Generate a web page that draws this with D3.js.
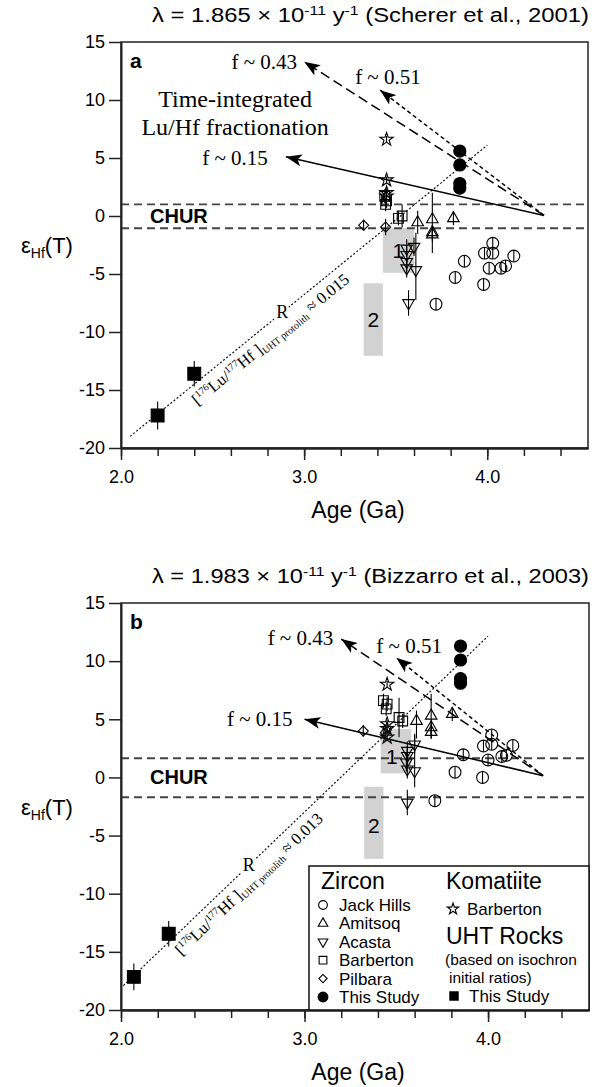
<!DOCTYPE html>
<html>
<head>
<meta charset="utf-8">
<script src="https://cdn.jsdelivr.net/npm/d3@7"></script>
<style>
  body { margin: 0; background: #fff; }
  svg text { font-family: "Liberation Sans", Arial, Helvetica, sans-serif; fill: #000; }
  svg text.serif { font-family: "Liberation Serif", "Times New Roman", serif; }
</style>
</head>
<body>
<div id="chart"></div>
<script>
// axis setup
const ageDomain = [2.0, 4.55];
const epsTicks = [-20, -15, -10, -5, 0, 5, 10, 15];
const ageMajor = [2.0, 3.0, 4.0];
const ageMinor = [2.0, 2.2, 2.4, 2.6, 2.8, 3.0, 3.2, 3.4, 3.6, 3.8, 4.0, 4.2, 4.4];

// panel a : lambda = 1.865e-11 (Scherer et al., 2001)
// points are [age Ga, eHf(T), err up, err down]
const jackHillsA = [[4.03,-2.35],[3.985,-3.2],[4.03,-3.2],[3.875,-3.9],[4.145,-3.45],[4.01,-4.5],
  [4.075,-4.5],[4.1,-4.3],[3.825,-5.3],[3.98,-5.9],[3.72,-7.6]];
const amitsoqA = [[3.62,-0.55,1.0],[3.70,-0.3,2.3,2.9],[3.815,-0.2,0.6],[3.70,-1.4,0.6],[3.70,-1.6,0.6]];
const acastaA = [[3.60,-2.65,0.8],[3.56,-2.8,0.8],[3.56,-3.35,0.8],[3.56,-3.95,0.8],[3.56,-4.5,0.8],
  [3.61,-4.65,3.2,2.6],[3.57,-7.5,1.1]];
const barbertonA = [[3.44,1.7,0.6],[3.45,1.3,0.6],[3.445,1.0,0.6],[3.515,-0.2,0.6],[3.535,0.0,1.0]];
const pilbaraA = [[3.325,-0.8,0.5],[3.445,-0.95,0.7]];
const komatiiteA = [[3.45,6.6,0.3],[3.45,3.1,0.3],[3.45,2.0,0.3],[3.45,1.7,0.3]];
const zirconStudyA = [[3.85,5.6,0],[3.85,4.4,0],[3.85,2.8,0],[3.85,2.4,0]];
const uhtA = [[2.2,-17.2,1.2],[2.4,-13.6,1.1]];
const boxesA = [[3.43,3.60,-1.05,-4.9],[3.325,3.43,-5.8,-12.05]];
const churA = [1.0, -1.05];
const fOriginA = [4.31, 0.05];
const fTipsA = [[2.90,5.1],[3.0,13.3],[3.415,10.85]];
const rLineA = [[2.05,-19.0],[4.0,6.1]];

// panel b : lambda = 1.983e-11 (Bizzarro et al., 2003)
const jackHillsB = [[4.02,3.65],[3.975,2.7],[4.02,2.85],[4.135,2.75],[3.865,1.95],[4.075,1.8],
  [4.1,1.9],[4.0,1.5],[3.82,0.45],[3.97,0.0],[3.71,-2.0]];
const amitsoqB = [[3.61,4.85,0.9,1.5],[3.69,5.3,1.9],[3.69,4.3,0.6],[3.69,3.9,0.6],[3.805,5.45,0.6]];
const acastaB = [[3.60,2.85,0.8],[3.56,2.3,0.8],[3.56,1.85,0.8],[3.555,1.3,0.8],[3.56,0.7,0.8],
  [3.60,0.55,3.2,1.4],[3.56,-2.15,1.1]];
const barbertonB = [[3.43,6.6,0.6],[3.45,6.3,0.6],[3.445,5.9,0.6],[3.515,5.15,1.7],[3.535,4.85,0.6]];
const pilbaraB = [[3.32,4.0,0.5],[3.44,3.85,0.7]];
const komatiiteB = [[3.45,8.0,0.3],[3.45,4.6,0.3],[3.45,4.2,0.3],[3.45,3.45,0.3]];
const zirconStudyB = [[3.85,11.3,0],[3.85,10.1,0],[3.85,8.5,0],[3.85,8.1,0]];
const uhtB = [[2.07,-17.15,1.15],[2.26,-13.45,1.1]];
const boxesB = [[3.415,3.58,4.15,0.35],[3.325,3.43,-0.8,-7.0]];
const churB = [1.65, -1.7];
const fOriginB = [4.30, 0.15];
const fTipsB = [[3.0,5.0],[3.2,11.9],[3.5,10.3]];
const rLineB = [[2.013,-17.9],[4.0,12.15]];

const fLabels = ["f ~ 0.15", "f ~ 0.43", "f ~ 0.51"];
const fDash = [null, "10,5", "4,3"];

const svg = d3.select("#chart").append("svg")
    .attr("width", 600).attr("height", 1087);

svg.append("defs").append("marker")
    .attr("id", "ah")
    .attr("viewBox", "0 -6 17 12")
    .attr("refX", 16).attr("refY", 0)
    .attr("markerWidth", 17).attr("markerHeight", 12)
    .attr("markerUnits", "userSpaceOnUse")
    .attr("orient", "auto")
  .append("path")
    .attr("d", "M0,-6 L16,0 L0,6 L4,0 Z")
    .attr("fill", "#000");

function plotSet(g, x, y, data, sym, size, fill, rot) {
    const gg = g.append("g");
    gg.selectAll("line").data(data).join("line")
        .attr("x1", d => x(d[0])).attr("x2", d => x(d[0]))
        .attr("y1", d => y(d[1] + (d[2] ?? 0.5)))
        .attr("y2", d => y(d[1] - (d[3] ?? d[2] ?? 0.5)))
        .attr("stroke", "#000").attr("stroke-width", 1.1);
    gg.selectAll("path").data(data).join("path")
        .attr("d", d3.symbol(sym, size))
        .attr("transform", d => `translate(${x(d[0])},${y(d[1])}) rotate(${rot || 0})`)
        .attr("fill", fill).attr("stroke", "#000").attr("stroke-width", 1.1);
}

function drawPanel(c) {
    const x = d3.scaleLinear().domain(ageDomain).range([121, c.right]);
    const y = d3.scaleLinear().domain([-20, 15]).range([c.bottom, c.top]);
    const g = svg.append("g");

    // grey boxes 1 and 2
    g.selectAll("rect.box").data(c.boxes).join("rect")
        .attr("class", "box")
        .attr("x", d => x(d[0])).attr("width", d => x(d[1]) - x(d[0]))
        .attr("y", d => y(d[2])).attr("height", d => y(d[3]) - y(d[2]))
        .attr("fill", "#d2d2d2");
    g.selectAll("text.boxlab").data(c.boxes).join("text")
        .attr("class", "boxlab")
        .attr("x", (d, i) => (x(d[0]) + x(d[1])) / 2 + c.boxLabDx[i])
        .attr("y", (d, i) => (y(d[2]) + y(d[3])) / 2 + 7 + c.boxLabDy[i])
        .attr("text-anchor", "middle").attr("font-size", 21)
        .text((d, i) => String(i + 1));

    // CHUR band
    g.selectAll("line.chur").data(c.chur).join("line")
        .attr("class", "chur")
        .attr("x1", x.range()[0]).attr("x2", x.range()[1])
        .attr("y1", d => y(d)).attr("y2", d => y(d))
        .attr("stroke", "#444").attr("stroke-width", 1.9)
        .attr("stroke-dasharray", "8,5");

    // reference line R
    const r0 = c.rLine[0], r1 = c.rLine[1];
    g.append("line")
        .attr("x1", x(r0[0])).attr("y1", y(r0[1]))
        .attr("x2", x(r1[0])).attr("y2", y(r1[1]))
        .attr("stroke", "#111").attr("stroke-width", 1.2)
        .attr("stroke-dasharray", "2,2");
    const rAt = a => r0[1] + (r1[1] - r0[1]) * (a - r0[0]) / (r1[0] - r0[0]);
    const ang = Math.atan2(y(r1[1]) - y(r0[1]), x(r1[0]) - x(r0[0])) * 180 / Math.PI;

    const rl = g.append("text").attr("class", "serif")
        .attr("transform", `translate(${x(c.rText)},${y(rAt(c.rText))}) rotate(${ang})`)
        .attr("y", 19).attr("text-anchor", "middle").attr("font-size", 16.5);
    rl.append("tspan").text("[");
    rl.append("tspan").attr("font-size", 10).attr("dy", -6).text("176");
    rl.append("tspan").attr("dy", 6).text("Lu/");
    rl.append("tspan").attr("font-size", 10).attr("dy", -6).text("177");
    rl.append("tspan").attr("dy", 6).text("Hf ]");
    rl.append("tspan").attr("font-size", 10).attr("dy", 3).text("UHT protolith");
    rl.append("tspan").attr("dy", -3).text(" \u2248 " + c.rValue);

    g.append("text").attr("class", "serif")
        .attr("x", x(c.rLetter)).attr("y", y(rAt(c.rLetter)) + 6)
        .attr("text-anchor", "middle").attr("font-size", 18)
        .attr("stroke", "#fff").attr("stroke-width", 5).attr("paint-order", "stroke")
        .text("R");

    // fractionation arrows
    c.fTips.forEach((t, i) => {
        g.append("line")
            .attr("x1", x(c.fOrigin[0])).attr("y1", y(c.fOrigin[1]))
            .attr("x2", x(t[0])).attr("y2", y(t[1]))
            .attr("stroke", "#000").attr("stroke-width", 1.5)
            .attr("stroke-dasharray", fDash[i])
            .attr("marker-end", "url(#ah)");
        const o = c.fLabOff[i];
        g.append("text").attr("class", "serif")
            .attr("x", x(t[0]) + o[0]).attr("y", y(t[1]) + o[1])
            .attr("text-anchor", o[2]).attr("font-size", 21)
            .text(fLabels[i]);
    });

    if (c.note) {
        c.note.forEach((line, i) => {
            g.append("text").attr("class", "serif")
                .attr("x", x(c.noteAt[0])).attr("y", y(c.noteAt[1]) + 7 + i * 28)
                .attr("text-anchor", "middle").attr("font-size", 24)
                .text(line);
        });
    }

    // data
    plotSet(g, x, y, c.pilbara, d3.symbolSquare, 50, "none", 45);
    plotSet(g, x, y, c.barberton, d3.symbolSquare, 95, "none", 0);
    plotSet(g, x, y, c.amitsoq, d3.symbolTriangle, 58, "none", 0);
    plotSet(g, x, y, c.acasta, d3.symbolTriangle, 58, "none", 180);
    plotSet(g, x, y, c.jackHills, d3.symbolCircle, 110, "none", 0);
    plotSet(g, x, y, c.komatiite, d3.symbolStar, 55, "none", 0);
    plotSet(g, x, y, c.zirconStudy, d3.symbolCircle, 115, "#000", 0);
    plotSet(g, x, y, c.uht, d3.symbolSquare, 165, "#000", 0);

    // frame and axes
    g.append("rect")
        .attr("x", x.range()[0]).attr("y", c.top)
        .attr("width", x.range()[1] - x.range()[0]).attr("height", c.bottom - c.top)
        .attr("fill", "none").attr("stroke", "#222").attr("stroke-width", 1.5);

    const ya = g.append("g").attr("transform", `translate(${x.range()[0]},0)`)
        .call(d3.axisLeft(y).tickValues(epsTicks).tickSize(12).tickSizeOuter(0)
            .tickPadding(4).tickFormat(d => String(d)));
    const xMinor = g.append("g").attr("transform", `translate(0,${c.bottom})`)
        .call(d3.axisBottom(x).tickValues(ageMinor).tickSize(8).tickSizeOuter(0).tickFormat(""));
    const xa = g.append("g").attr("transform", `translate(0,${c.bottom})`)
        .call(d3.axisBottom(x).tickValues(ageMajor).tickSize(12).tickSizeOuter(0)
            .tickPadding(10).tickFormat(d3.format(".1f")));
    [ya, xMinor, xa].forEach(a => {
        a.select(".domain").attr("stroke", "#222").attr("stroke-width", 2);
        a.selectAll(".tick line").attr("stroke", "#222").attr("stroke-width", 1.5);
        a.selectAll(".tick text").attr("font-size", 18).attr("fill", "#000")
            .attr("font-family", "Liberation Sans, Arial, sans-serif");
    });

    // labels
    g.append("text").attr("x", 130).attr("y", c.top + 26)
        .attr("font-size", 21).attr("font-weight", "bold").text(c.id);
    g.append("text").attr("x", 150).attr("y", y(0) + 7)
        .attr("font-size", 20).attr("font-weight", "bold").text("CHUR");

    const tt = g.append("text").attr("x", 152).attr("y", c.top - 20)
        .attr("font-size", 19.5)
        .attr("textLength", 437).attr("lengthAdjust", "spacingAndGlyphs");
    tt.append("tspan").text("\u03bb = " + c.lambda + " \u00d7 10");
    tt.append("tspan").attr("font-size", 13).attr("dy", -7).text("-11");
    tt.append("tspan").attr("dy", 7).text(" y");
    tt.append("tspan").attr("font-size", 13).attr("dy", -7).text("-1");
    tt.append("tspan").attr("dy", 7).text(" (" + c.ref + ")");

    const yl = g.append("text").attr("x", 21).attr("y", (c.top + c.bottom) / 2 + 8)
        .attr("font-size", 22);
    yl.append("tspan").text("\u03b5");
    yl.append("tspan").attr("font-size", 14).attr("dy", 5).text("Hf");
    yl.append("tspan").attr("dy", -5).text("(T)");

    g.append("text").attr("x", 358).attr("y", c.bottom + 70)
        .attr("text-anchor", "middle").attr("font-size", 23).text("Age (Ga)");

    return { x, y, g };
}

drawPanel({
    id: "a", top: 42, bottom: 448, right: 588,
    lambda: "1.865", ref: "Scherer et al., 2001",
    jackHills: jackHillsA, amitsoq: amitsoqA, acasta: acastaA, barberton: barbertonA,
    pilbara: pilbaraA, komatiite: komatiiteA, zirconStudy: zirconStudyA, uht: uhtA,
    boxes: boxesA, boxLabDx: [0, 0], boxLabDy: [0, 0], chur: churA,
    fOrigin: fOriginA, fTips: fTipsA,
    fLabOff: [[-18, 8, "end"], [-7, 7, "end"], [-25, -6, "start"]],
    rLine: rLineA, rText: 2.77, rLetter: 2.88, rValue: "0.015",
    note: ["Time-integrated", "Lu/Hf fractionation"], noteAt: [2.623, 10.0]
});

const pb = drawPanel({
    id: "b", top: 603, bottom: 1010, right: 589,
    lambda: "1.983", ref: "Bizzarro et al., 2003",
    jackHills: jackHillsB, amitsoq: amitsoqB, acasta: acastaB, barberton: barbertonB,
    pilbara: pilbaraB, komatiite: komatiiteB, zirconStudy: zirconStudyB, uht: uhtB,
    boxes: boxesB, boxLabDx: [-4, 0], boxLabDy: [6, 3], chur: churB,
    fOrigin: fOriginB, fTips: fTipsB,
    fLabOff: [[-12, 7, "end"], [-8, 6, "end"], [-20, -5, "start"]],
    rLine: rLineB, rText: 2.646, rLetter: 2.696, rValue: "0.013"
});

// legend in panel b
const zirconKeys = [
    ["Jack Hills", d3.symbolCircle, 60, "none", 0],
    ["Amitsoq", d3.symbolTriangle, 40, "none", 0],
    ["Acasta", d3.symbolTriangle, 40, "none", 180],
    ["Barberton", d3.symbolSquare, 60, "none", 0],
    ["Pilbara", d3.symbolSquare, 34, "none", 45],
    ["This Study", d3.symbolCircle, 75, "#000", 0]
];
const lg = pb.g.append("g");
lg.append("rect").attr("x", 309).attr("y", 866).attr("width", 280).attr("height", 144)
    .attr("fill", "#fff").attr("stroke", "#111").attr("stroke-width", 1.5);
lg.append("text").attr("x", 321).attr("y", 889).attr("font-size", 23).text("Zircon");
lg.append("text").attr("x", 446).attr("y", 889).attr("font-size", 23).text("Komatiite");
lg.selectAll("path.zk").data(zirconKeys).join("path")
    .attr("class", "zk")
    .attr("d", d => d3.symbol(d[1], d[2])())
    .attr("transform", (d, i) => `translate(323,${905 + i * 18.4}) rotate(${d[4]})`)
    .attr("fill", d => d[3]).attr("stroke", "#000").attr("stroke-width", 1.1);
lg.selectAll("text.zk").data(zirconKeys).join("text")
    .attr("class", "zk")
    .attr("x", 339).attr("y", (d, i) => 911 + i * 18.4)
    .attr("font-size", 17).text(d => d[0]);
lg.append("path").attr("d", d3.symbol(d3.symbolStar, 40)())
    .attr("transform", "translate(453,909)")
    .attr("fill", "none").attr("stroke", "#000").attr("stroke-width", 1.1);
lg.append("text").attr("x", 467).attr("y", 915).attr("font-size", 17).text("Barberton");
lg.append("text").attr("x", 446).attr("y", 944).attr("font-size", 23).text("UHT Rocks");
lg.append("text").attr("x", 445).attr("y", 965).attr("font-size", 15.5).text("(based on isochron");
lg.append("text").attr("x", 449).attr("y", 983).attr("font-size", 15.5).text("initial ratios)");
lg.append("path").attr("d", d3.symbol(d3.symbolSquare, 90)())
    .attr("transform", "translate(454,996)").attr("fill", "#000");
lg.append("text").attr("x", 469).attr("y", 1002).attr("font-size", 17).text("This Study");
</script>
</body>
</html>
